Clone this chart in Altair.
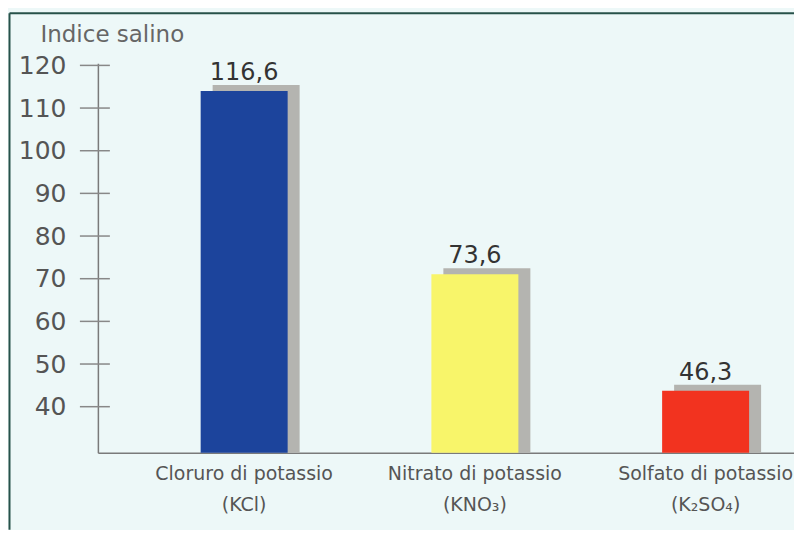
import altair as alt
import pandas as pd

categories = ["Cloruro di potassio|(KCl)", "Nitrato di potassio|(KNO₃)", "Solfato di potassio|(K₂SO₄)"]
values = [116.6, 73.6, 46.3]
value_labels = ["116,6", "73,6", "46,3"]
colors = ["#1c449c", "#f8f56a", "#f2331f"]
tick_values = [40, 50, 60, 70, 80, 90, 100, 110, 120]
y_min, y_max = 29.2, 120.5

df = pd.DataFrame({"cat": categories, "value": values, "label": value_labels, "color": colors})
ticks_df = pd.DataFrame({"value": tick_values})
one = pd.DataFrame({"a": [0]})

FONT = "DejaVu Sans"
yscale = alt.Scale(domain=[y_min, y_max], clamp=True, nice=False, zero=False)
xscale = alt.Scale(domain=categories, paddingInner=0.623, paddingOuter=0.32, align=0.696)

x_axis = alt.Axis(title=None, labelExpr="split(datum.label, '|')", labelAngle=0,
                  labelFont=FONT, labelFontSize=19, labelColor="#555", labelLineHeight=31,
                  labelPadding=12, labelLimit=400, ticks=False, domainColor="#7a7a7a",
                  domainWidth=1.5, labelBaseline="top")
y_axis = alt.Axis(values=tick_values, title="Indice salino", titleAngle=0, titleX=-58, titleY=-22,
                  titleAlign="left", titleBaseline="alphabetic", titleFont=FONT, titleFontSize=23,
                  titleFontWeight="normal", titleColor="#666", labelFont=FONT, labelFontSize=25,
                  labelColor="#555", labelPadding=32, ticks=False, tickSize=0, grid=False,
                  domainColor="#7a7a7a", domainWidth=1.5)

x_enc = alt.X("cat:N", scale=xscale, sort=categories, axis=x_axis)

base = alt.Chart(df)
shadow = base.mark_bar(color="#b4b4b0", xOffset=12, yOffset=5).encode(
    x=x_enc, y=alt.Y("value:Q", scale=yscale, axis=y_axis), y2=alt.datum(y_min))
bars = base.mark_bar(yOffset=11).encode(
    x=x_enc, y=alt.Y("value:Q", scale=yscale), y2=alt.datum(y_min),
    color=alt.Color("color:N", scale=None))
text = base.mark_text(font=FONT, fontSize=24, color="#333", baseline="alphabetic", align="center").encode(
    x=x_enc, y=alt.Y("value:Q", scale=yscale), text="label:N")
tickrules = alt.Chart(ticks_df).mark_rule(color="#888", strokeWidth=1.5).encode(
    y=alt.Y("value:Q", scale=yscale), x=alt.value(-18), x2=alt.value(12))
border_left = alt.Chart(one).mark_rule(color="#27524a", strokeWidth=2).encode(
    x=alt.value(-88.5), y=alt.value(-50), y2=alt.value(467))
border_top = alt.Chart(one).mark_rule(color="#27524a", strokeWidth=2).encode(
    x=alt.value(-88.5), x2=alt.value(697), y=alt.value(-50))

chart = alt.layer(shadow, bars, text, tickrules, border_left, border_top).properties(
    width=697, height=390,
    autosize=alt.AutoSizeParams(type="none"),
    padding={"left": 90, "top": 55, "right": 0, "bottom": 77},
    background="#edf8f8",
).configure_view(stroke="transparent")

chart.save("out.html", embed_options={"renderer": "svg", "actions": False})
